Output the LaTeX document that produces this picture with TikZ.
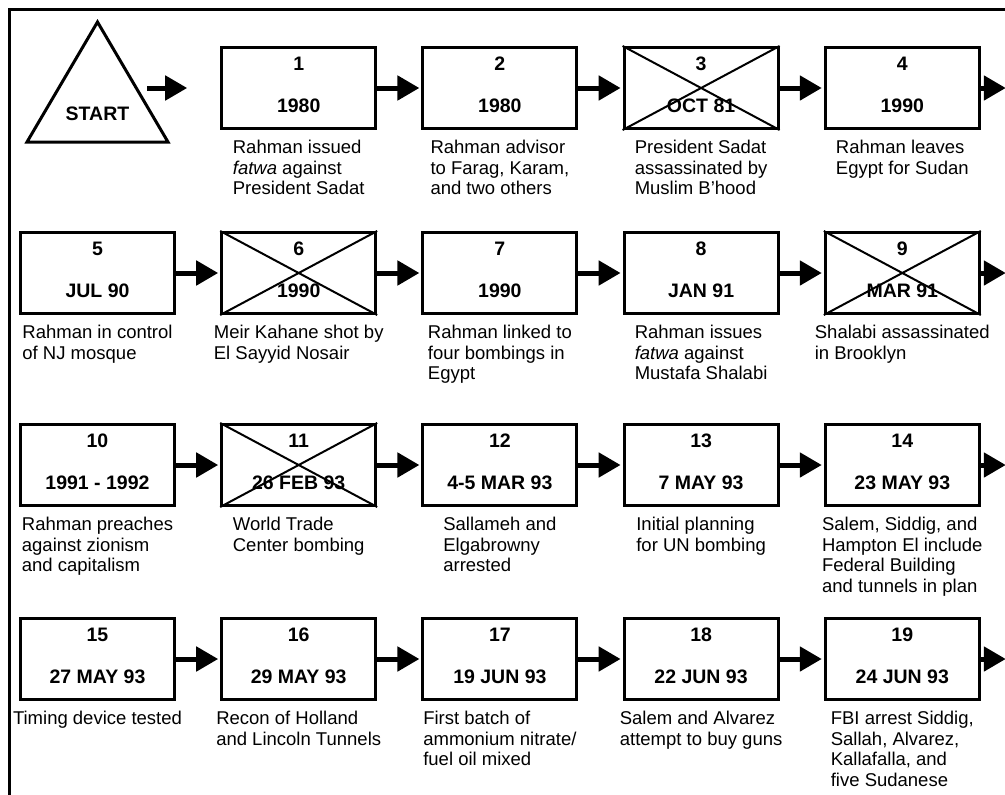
\documentclass[tikz,border=0pt]{standalone}
\usepackage{fontspec}
\setmainfont{Liberation Sans}
\usetikzlibrary{arrows.meta}
\tikzset{
  box/.style={draw, line width=3pt, minimum width=154pt, minimum height=81pt, inner sep=0pt},
  num/.style={font=\bfseries\fontsize{19.5}{22}\selectfont, anchor=base, inner sep=0pt},
  desc/.style={font=\fontsize{18.5}{20.5}\selectfont, align=left, anchor=north, inner sep=0pt},
  arr/.style={line width=5pt, -{Triangle[length=22pt,width=24pt]}},
  xline/.style={line width=2pt},
  frame/.style={line width=3.5pt},
}
\newcommand\evt[5]{% #1 col, #2 top, #3 number, #4 date, #5 description
  \node[box] (b#3) at ({97.5+201.2*#1},{#2+42}) {};
  \node[num] (n#3) at ({97.5+201.2*#1},{#2+24}) {#3};
  \node[num] (t#3) at ({97.5+201.2*#1},{#2+66.5}) {#4};
  \node[desc] (d#3) at ({97.5+201.2*#1},{#2+94}) {#5};
}
\newcommand\crossbox[1]{%
  \draw[xline] (b#1.north west) -- (b#1.south east) (b#1.south west) -- (b#1.north east);
}
\begin{document}
\begin{tikzpicture}[x=1pt,y=-1pt]
\useasboundingbox (0,0) rectangle (1005,795);
\clip (0,0) rectangle (1005,795);
\fill[white] (0,0) rectangle (1005,795);
% frame
\draw[frame] (9.5,800) -- (9.5,9.5) -- (1010,9.5);
% start triangle
\draw[line width=3pt] (97.5,22) -- (168,142) -- (27,142) -- cycle;
\node[num] (start) at (97.5,120) {START};
% row 1
\evt{1}{46}{1}{1980}{Rahman issued\\\textit{fatwa} against\\President Sadat}
\evt{2}{46}{2}{1980}{Rahman advisor\\to Farag, Karam,\\and two others}
\evt{3}{46}{3}{OCT 81}{President Sadat\\assassinated by\\Muslim B’hood}
\evt{4}{46}{4}{1990}{Rahman leaves\\Egypt for Sudan}
% row 2
\evt{0}{231}{5}{JUL 90}{Rahman in control\\of NJ mosque}
\evt{1}{231}{6}{1990}{Meir Kahane shot by\\El Sayyid Nosair}
\evt{2}{231}{7}{1990}{Rahman linked to\\four bombings in\\Egypt}
\evt{3}{231}{8}{JAN 91}{Rahman issues\\\textit{fatwa} against\\Mustafa Shalabi}
\evt{4}{231}{9}{MAR 91}{Shalabi assassinated\\in Brooklyn}
% row 3
\evt{0}{423}{10}{1991 - 1992}{Rahman preaches\\against zionism\\and capitalism}
\evt{1}{423}{11}{26 FEB 93}{World Trade\\Center bombing}
\evt{2}{423}{12}{4-5 MAR 93}{Sallameh and\\Elgabrowny\\arrested}
\evt{3}{423}{13}{7 MAY 93}{Initial planning\\for UN bombing}
\evt{4}{423}{14}{23 MAY 93}{Salem, Siddig, and\\Hampton El include\\Federal Building\\and tunnels in plan}
% row 4
\evt{0}{617}{15}{27 MAY 93}{Timing device tested}
\evt{1}{617}{16}{29 MAY 93}{Recon of Holland\\and Lincoln Tunnels}
\evt{2}{617}{17}{19 JUN 93}{First batch of\\ammonium nitrate/\\fuel oil mixed}
\evt{3}{617}{18}{22 JUN 93}{Salem and Alvarez\\attempt to buy guns}
\evt{4}{617}{19}{24 JUN 93}{FBI arrest Siddig,\\Sallah, Alvarez,\\Kallafalla, and\\five Sudanese}
% crossed-out boxes
\crossbox{3}\crossbox{6}\crossbox{9}\crossbox{11}
% arrows
\coordinate (s0) at (147,88);
\draw[arr, shorten >=33pt] (s0) -- (b1.west);
\foreach \a/\b in {1/2,2/3,3/4,5/6,6/7,7/8,8/9,10/11,11/12,12/13,13/14,15/16,16/17,17/18,18/19}
  \draw[arr, shorten >=2pt] (b\a.east) -- (b\b.west);
\foreach \a in {4,9,14,19}{
  \path (b\a.east) ++(25,0) coordinate (e\a);
  \draw[arr] (b\a.east) -- (e\a);
}
\end{tikzpicture}
\end{document}
